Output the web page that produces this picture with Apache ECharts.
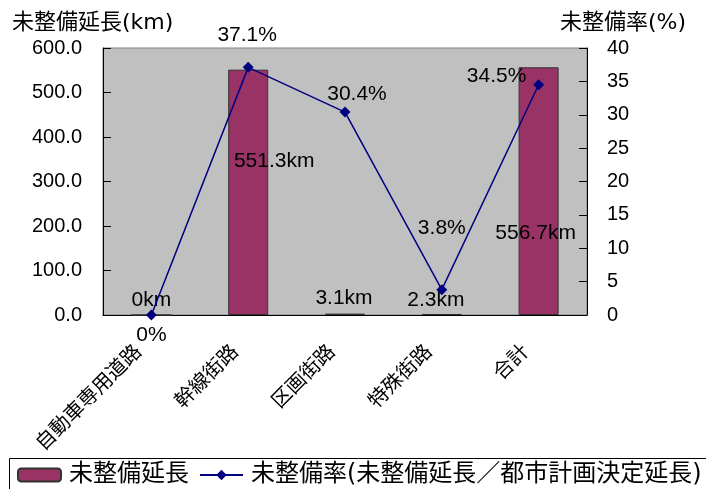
<!DOCTYPE html>
<html>
<head>
<meta charset="utf-8">
<script src="https://cdn.jsdelivr.net/npm/echarts@6/dist/echarts.min.js"></script>
<style>
  html, body { margin: 0; padding: 0; background: #fff; }
  #chart { width: 706px; height: 489px; }
</style>
</head>
<body>
<div id="chart"></div>
<script>
// Road categories and values
const categories = ['自動車専用道路', '幹線街路', '区画街路', '特殊街路', '合計'];
const lengthKm = [0, 551.3, 3.1, 2.3, 556.7];      // 未整備延長 (km)
const ratePct = [0, 37.1, 30.4, 3.8, 34.5];        // 未整備率 (%)

// Axis ranges
const lengthAxis = { min: 0, max: 600, interval: 100 };
const rateAxis = { min: 0, max: 40, interval: 5 };

// Label placement tweaks (pixel offsets from the default anchor)
const barLabelOffsets = [[0, -15], [26, -31], [-1, -16], [-6, -14], [-3, 42]];
const lineLabelOffsets = [[0, 20], [-1, -32], [12, -18], [0, -61], [-42, -9]];

const numFont = "'Liberation Sans', 'Noto Sans CJK JP', sans-serif";
const wideFont = "'DejaVu Sans', 'Noto Sans CJK JP', sans-serif";
const cjkFont = "'Noto Sans CJK JP', 'Liberation Sans', sans-serif";

const chart = echarts.init(document.getElementById('chart'), null, { renderer: 'canvas' });

chart.setOption({
  animation: false,
  backgroundColor: '#ffffff',
  title: [
    {
      text: '未整備延長(km)', left: 12, top: 12, padding: 0,
      textStyle: { fontSize: 22, fontWeight: 'normal', color: '#000', fontFamily: wideFont }
    },
    {
      text: '未整備率(%)', right: 20, top: 12, padding: 0,
      textStyle: { fontSize: 22, fontWeight: 'normal', color: '#000', fontFamily: wideFont }
    }
  ],
  graphic: [
    {
      type: 'rect', z: 0, silent: true,
      shape: { x: 9.5, y: 458.5, width: 720, height: 60 },
      style: { fill: '#ffffff', stroke: '#000000', lineWidth: 1 }
    }
  ],
  legend: {
    left: 17, top: 463, padding: 0, itemGap: 10,
    itemWidth: 43, itemHeight: 13, z: 5,
    textStyle: { fontSize: 24, color: '#000', fontFamily: wideFont, padding: [0, 0, 0, 3] },
    data: ['未整備延長', '未整備率(未整備延長／都市計画決定延長)']
  },
  grid: {
    left: 103, right: 119, top: 48, bottom: 174,
    show: true, backgroundColor: '#C0C0C0', borderColor: '#808080', borderWidth: 1
  },
  xAxis: {
    type: 'category',
    data: categories,
    axisLine: { lineStyle: { color: '#000', width: 1 } },
    axisTick: { inside: true, length: 7, lineStyle: { color: '#000' } },
    axisLabel: {
      interval: 0, rotate: 45, margin: 18, padding: [0, 20, 0, 0],
      fontSize: 20, color: '#000', fontFamily: cjkFont
    }
  },
  yAxis: [
    {
      type: 'value', position: 'left',
      min: lengthAxis.min, max: lengthAxis.max, interval: lengthAxis.interval,
      axisLine: { show: true, lineStyle: { color: '#000' } },
      axisTick: { show: true, inside: true, length: 8, lineStyle: { color: '#000' } },
      splitLine: { show: false },
      axisLabel: {
        margin: 21, fontSize: 20, color: '#000', fontFamily: numFont,
        formatter: v => v.toFixed(1)
      }
    },
    {
      type: 'value', position: 'right',
      min: rateAxis.min, max: rateAxis.max, interval: rateAxis.interval,
      axisLine: { show: true, lineStyle: { color: '#000' } },
      axisTick: { show: true, inside: true, length: 8, lineStyle: { color: '#000' } },
      splitLine: { show: false },
      axisLabel: { margin: 20, fontSize: 20, color: '#000', fontFamily: numFont }
    }
  ],
  series: [
    {
      name: '未整備延長',
      type: 'bar',
      yAxisIndex: 0,
      barWidth: 40,
      z: 2,
      itemStyle: { color: '#993366', borderColor: '#333333', borderWidth: 1 },
      label: {
        show: true, position: 'inside', fontSize: 21, color: '#000', fontFamily: numFont,
        formatter: p => p.value + 'km'
      },
      data: lengthKm.map((v, i) => ({ value: v, label: { offset: barLabelOffsets[i] } }))
    },
    {
      name: '未整備率(未整備延長／都市計画決定延長)',
      type: 'line',
      yAxisIndex: 1,
      z: 3,
      symbol: 'diamond',
      symbolSize: 11,
      lineStyle: { color: '#000080', width: 1.5 },
      itemStyle: { color: '#000080' },
      label: {
        show: true, position: 'inside', fontSize: 21, color: '#000', fontFamily: numFont,
        formatter: p => p.value + '%'
      },
      data: ratePct.map((v, i) => ({ value: v, label: { offset: lineLabelOffsets[i] } }))
    }
  ]
});
</script>
</body>
</html>
